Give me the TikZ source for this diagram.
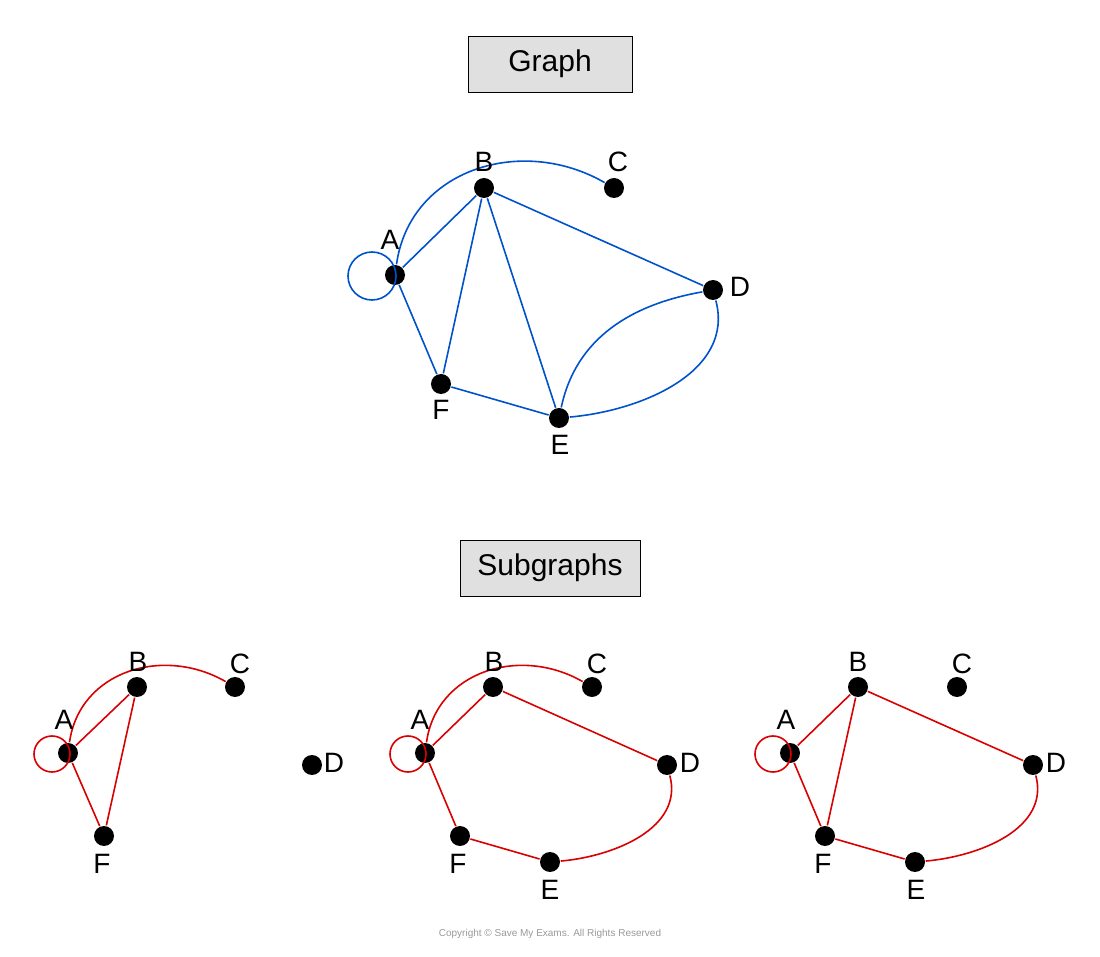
\documentclass[tikz,border=0pt]{standalone}
\usepackage{fontspec}
\setmainfont{Liberation Sans}
\begin{document}
\begin{tikzpicture}[x=0.5pt,y=-0.5pt,
  dot/.style={circle,fill=black,inner sep=0pt,minimum size=10pt},
  lbl/.style={font=\fontsize{14}{16}\selectfont},
  title/.style={draw,fill=black!12,font=\fontsize{15}{18}\selectfont,minimum height=28pt},
  gedge/.style={line width=0.8pt,draw=blue!60!cyan!80!black},
  sedge/.style={line width=0.8pt,draw=red!85!black}]
  \useasboundingbox (0,0) rectangle (1100,957);

  % titles
  \node[title,minimum width=82pt] (graph) at (550,64) {Graph};
  \node[title,minimum width=90pt] (subgraphs) at (550,568) {Subgraphs};

  % main graph
  \begin{scope}[gedge]
    \node[dot] (A) at (395,275) {};
    \node[dot] (B) at (484,188) {};
    \node[dot] (C) at (614,188) {};
    \node[dot] (D) at (713,290) {};
    \node[dot] (E) at (559,418) {};
    \node[dot] (F) at (441,384) {};
    \draw (A) to[out=82,in=150,looseness=1.1] (C);
    \draw (A) -- (B) (A) -- (F) (B) -- (F) (B) -- (E) (B) -- (D) (F) -- (E);
    \draw (E) to[out=78,in=190] (D);
    \draw (E) to[out=5,in=-75] (D);
    \draw (372,276) circle (12pt);
  \end{scope}
  \node[lbl] at (390,240) {A};
  \node[lbl] at (484,162) {B};
  \node[lbl] at (618,162) {C};
  \node[lbl] at (740,287) {D};
  \node[lbl] at (560,445) {E};
  \node[lbl] at (441,410) {F};

  % subgraph 1
  \begin{scope}[sedge]
    \node[dot] (A1) at (68,753) {};
    \node[dot] (B1) at (137,687) {};
    \node[dot] (C1) at (235,687) {};
    \node[dot] (D1) at (312,765) {};
    \node[dot] (F1) at (104,836) {};
    \draw (A1) to[out=82,in=150,looseness=1.1] (C1);
    \draw (A1) -- (B1) (A1) -- (F1) (B1) -- (F1);
    \draw (52,754) circle (9pt);
  \end{scope}
  \node[lbl] at (64,720) {A};
  \node[lbl] at (138,662) {B};
  \node[lbl] at (240,664) {C};
  \node[lbl] at (334,763) {D};
  \node[lbl] at (102,864) {F};

  % subgraph 2
  \begin{scope}[sedge]
    \node[dot] (A2) at (425,753) {};
    \node[dot] (B2) at (493,687) {};
    \node[dot] (C2) at (592,687) {};
    \node[dot] (D2) at (667,765) {};
    \node[dot] (E2) at (550,862) {};
    \node[dot] (F2) at (460,836) {};
    \draw (A2) to[out=82,in=150,looseness=1.1] (C2);
    \draw (A2) -- (B2) (B2) -- (D2) (A2) -- (F2) (F2) -- (E2);
    \draw (E2) to[out=5,in=-75] (D2);
    \draw (408,754) circle (9pt);
  \end{scope}
  \node[lbl] at (420,720) {A};
  \node[lbl] at (494,662) {B};
  \node[lbl] at (597,664) {C};
  \node[lbl] at (690,763) {D};
  \node[lbl] at (550,890) {E};
  \node[lbl] at (458,864) {F};

  % subgraph 3
  \begin{scope}[sedge]
    \node[dot] (A3) at (790,753) {};
    \node[dot] (B3) at (858,687) {};
    \node[dot] (C3) at (957,687) {};
    \node[dot] (D3) at (1033,765) {};
    \node[dot] (E3) at (915,862) {};
    \node[dot] (F3) at (825,836) {};
    \draw (A3) -- (B3) (B3) -- (F3) (A3) -- (F3) (B3) -- (D3) (F3) -- (E3);
    \draw (E3) to[out=5,in=-75] (D3);
    \draw (773,754) circle (9pt);
  \end{scope}
  \node[lbl] at (786,720) {A};
  \node[lbl] at (858,662) {B};
  \node[lbl] at (962,664) {C};
  \node[lbl] at (1056,763) {D};
  \node[lbl] at (916,890) {E};
  \node[lbl] at (823,864) {F};

  \node[text=black!40,font=\fontsize{5}{6}\selectfont] (copy) at (550,934) {Copyright \textcopyright\ Save My Exams. All Rights Reserved};
\end{tikzpicture}
\end{document}
